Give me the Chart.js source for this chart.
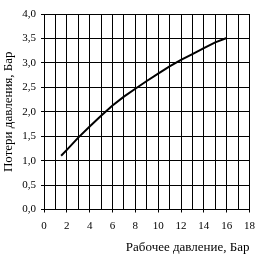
<!DOCTYPE html>
<html>
<head>
<meta charset="utf-8">
<script src="https://cdn.jsdelivr.net/npm/chart.js@4/dist/chart.umd.min.js"></script>
<style>
  html, body { margin: 0; padding: 0; background: #fff; }
  #wrap { width: 262px; height: 258px; }
</style>
</head>
<body>
<div id="wrap"><canvas id="myChart" width="262" height="258"></canvas></div>
<script>
'use strict';

// working pressure, bar
let pressure = [1.5, 2, 3, 4, 5, 6, 7, 8, 9, 10, 11, 12, 13, 14, 15, 16];
// pressure loss, bar
let loss = [1.1, 1.22, 1.47, 1.70, 1.92, 2.13, 2.31, 2.47, 2.63, 2.78, 2.93, 3.06, 3.18, 3.30, 3.42, 3.51];

let xTitle = 'Рабочее давление, Бар';
let yTitle = 'Потери давления, Бар';

let points = [];
for( let i = 0; i < pressure.length; i++ ) {
  points.push( { x: pressure[i], y: loss[i] } );
}

let serif = 'Liberation Serif, Times New Roman, serif';

let ctx = document.getElementById( 'myChart' ).getContext( '2d' );

let myChart = new Chart( ctx, {
  type: 'line',
  data: {
    datasets: [{
      data: points,
      borderColor: '#000',
      borderWidth: 2,
      pointRadius: 0,
      tension: 0,
      fill: false
    }]
  },
  options: {
    responsive: false,
    animation: false,
    layout: { padding: { top: 14, right: 10, left: 0, bottom: 0 } },
    plugins: { legend: { display: false }, tooltip: { enabled: false } },
    scales: {
      x: {
        type: 'linear',
        min: 0,
        max: 18,
        afterFit: function( s ) { s.height = 48.5; },
        border: { display: true, color: '#000', width: 1 },
        grid: {
          color: '#000',
          lineWidth: 1,
          tickLength: 3,
          tickColor: function( c ) {
            return c.tick && c.tick.value % 2 === 0 ? '#000' : 'rgba(0,0,0,0)';
          }
        },
        ticks: {
          stepSize: 1,
          autoSkip: false,
          maxRotation: 0,
          padding: 7,
          color: '#000',
          font: { family: serif, size: 11 },
          callback: function( v ) { return v % 2 === 0 ? String( v ) : ''; }
        },
        title: {
          display: true,
          text: xTitle,
          align: 'end',
          color: '#000',
          font: { family: serif, size: 13 },
          padding: { top: 0, bottom: 3 }
        }
      },
      y: {
        min: 0,
        max: 4,
        afterFit: function( s ) { s.width = 44; },
        border: { display: true, color: '#000', width: 1 },
        grid: { color: '#000', lineWidth: 1, tickLength: 3, tickColor: '#000' },
        ticks: {
          stepSize: 0.5,
          autoSkip: false,
          padding: 5,
          color: '#000',
          font: { family: serif, size: 11 },
          callback: function( v ) { return v.toFixed( 1 ).replace( '.', ',' ); }
        },
        title: {
          display: true,
          text: yTitle,
          color: '#000',
          font: { family: serif, size: 13 },
          padding: { top: 1, bottom: 1 }
        }
      }
    }
  }
} );
</script>
</body>
</html>
